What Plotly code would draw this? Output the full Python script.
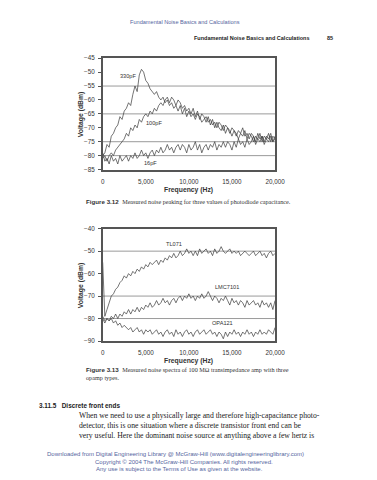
import plotly.graph_objects as go

W, H = 377, 480

# ---------------- data ----------------
freq = list(range(0, 20001, 250))

pf330 = [-80, -79, -76, -77, -73, -72, -70, -69, -66, -67, -64, -63, -61, -62, -58, -55, -57, -51, -49, -50,
         -53, -54, -56, -57, -58, -57, -59, -60, -59, -61, -60, -62, -61, -63, -62, -64, -62, -65, -63, -66,
         -64, -66, -65, -67, -65, -66, -68, -67, -66, -68, -67, -69, -68, -70, -68, -69, -71, -69, -70, -72,
         -70, -71, -73, -71, -72, -70, -73, -72, -74, -72, -73, -75, -72, -74, -73, -75, -73, -74, -72, -75, -73]
pf100 = [-81, -80, -82, -80, -79, -80, -78, -77, -76, -75, -74, -72, -73, -70, -71, -69, -70, -67, -68, -66,
         -65, -66, -64, -65, -63, -64, -62, -61, -62, -60, -59, -61, -59, -60, -62, -60, -61, -63, -62, -64,
         -63, -65, -63, -66, -64, -67, -65, -66, -68, -66, -69, -67, -70, -68, -70, -71, -69, -72, -70, -71,
         -73, -71, -72, -74, -72, -73, -71, -74, -72, -73, -75, -73, -74, -72, -75, -73, -74, -72, -75, -73, -74]
pf16 = [-79, -82, -81, -83, -80, -82, -81, -83, -80, -82, -81, -80, -82, -80, -81, -79, -81, -80, -78, -80,
        -79, -81, -79, -78, -80, -78, -79, -77, -79, -78, -76, -78, -77, -79, -77, -76, -78, -76, -77, -79,
        -76, -78, -77, -75, -78, -76, -79, -77, -76, -78, -76, -77, -75, -78, -76, -77, -75, -77, -75, -76,
        -78, -75, -77, -74, -76, -75, -77, -74, -76, -75, -73, -76, -74, -75, -73, -76, -74, -75, -73, -75, -74]

tl071 = [-55, -79, -76, -73, -70, -69, -67, -66, -64, -63, -61, -62, -60, -61, -59, -60, -58, -59, -57, -58,
         -56, -57, -55, -56, -55, -54, -56, -54, -55, -53, -54, -52, -53, -51, -53, -52, -50, -52, -51, -49,
         -51, -50, -52, -50, -52, -49, -51, -50, -49, -51, -50, -52, -49, -51, -50, -48, -50, -51, -50, -49,
         -51, -50, -51, -50, -52, -51, -50, -51, -52, -51, -50, -52, -51, -50, -52, -51, -53, -51, -50, -52, -51]
lmc7101 = [-80, -82, -80, -81, -79, -80, -78, -80, -78, -79, -77, -78, -76, -78, -76, -77, -75, -77, -75, -76,
           -74, -75, -73, -75, -74, -72, -74, -73, -71, -73, -72, -74, -72, -71, -73, -71, -70, -72, -70, -71,
           -69, -71, -70, -72, -70, -71, -69, -71, -70, -68, -70, -72, -70, -71, -73, -71, -72, -70, -72, -74,
           -71, -73, -72, -74, -72, -73, -75, -72, -74, -73, -72, -74, -73, -75, -72, -74, -73, -75, -73, -76, -72]
opa121 = [-79, -81, -80, -81, -80, -82, -81, -83, -82, -84, -83, -84, -85, -84, -86, -85, -84, -86, -85, -87,
          -85, -86, -85, -87, -86, -85, -87, -86, -88, -86, -85, -87, -86, -88, -85, -87, -86, -88, -86, -85,
          -87, -86, -88, -86, -85, -87, -86, -85, -87, -86, -85, -87, -86, -88, -86, -87, -89, -86, -88, -86,
          -87, -85, -87, -86, -88, -86, -87, -85, -87, -86, -88, -86, -87, -85, -87, -86, -87, -85, -86, -87, -84]

top_series = [("330pF", pf330), ("100pF", pf100), ("16pF", pf16)]
bot_series = [("TL071", tl071), ("LMC7101", lmc7101), ("OPA121", opa121)]

top_labels = [("330pF", 2900, -51.5), ("100pF", 6000, -68.3), ("16pF", 5500, -82.6)]
bot_labels = [("TL071", 8300, -46.8), ("LMC7101", 14400, -66.0), ("OPA121", 13900, -82.0)]

top_grid = [-55, -65, -75, -80]
bot_grid = [-50, -70, -80]

x_ticks = [0, 5000, 10000, 15000, 20000]
x_ticktext = ["0", "5,000", "10,000", "15,000", "20,000"]

# ---------------- helpers ----------------
def px(x):
    return x / W

def py(y):
    return 1 - y / H

SANS = "Liberation Sans, Arial, sans-serif"
SERIF = "Liberation Serif, Times New Roman, serif"
LINE = "#3a3a3a"
TXT = "#333333"

fig = go.Figure()
for name, vals in top_series:
    fig.add_trace(go.Scatter(x=freq, y=vals, mode="lines", name=name,
                             line=dict(color=LINE, width=0.7), xaxis="x", yaxis="y"))
for name, vals in bot_series:
    fig.add_trace(go.Scatter(x=freq, y=vals, mode="lines", name=name,
                             line=dict(color=LINE, width=0.7), xaxis="x2", yaxis="y2"))

xdom = [px(104), px(282)]
axis_common = dict(showline=True, mirror=True, linecolor="#555555", linewidth=1.5,
                   showgrid=False, zeroline=False, ticks="outside", ticklen=3,
                   tickcolor="#555555", ticklabelstandoff=2,
                   tickfont=dict(family=SANS, size=6.3, color=TXT))

fig.update_layout(
    width=W, height=H, margin=dict(l=0, r=0, t=0, b=0),
    paper_bgcolor="white", plot_bgcolor="white", showlegend=False,
    xaxis=dict(domain=xdom, anchor="y", range=[0, 20000], tickvals=x_ticks, ticktext=x_ticktext,
               **axis_common),
    yaxis=dict(domain=[py(168), py(55)], anchor="x", range=[-85, -45], dtick=5, **axis_common),
    xaxis2=dict(domain=xdom, anchor="y2", range=[0, 20000], tickvals=x_ticks, ticktext=x_ticktext,
                **axis_common),
    yaxis2=dict(domain=[py(342), py(228)], anchor="x2", range=[-90, -40], dtick=10, **axis_common),
)
fig.update_xaxes(ticklen=0, ticks="", ticklabelstandoff=5)

shapes = []
for v in top_grid:
    shapes.append(dict(type="line", xref="x domain", yref="y", x0=0, x1=1, y0=v, y1=v,
                       line=dict(color="#9a9a9a", width=1), layer="below"))
for v in bot_grid:
    shapes.append(dict(type="line", xref="x2 domain", yref="y2", x0=0, x1=1, y0=v, y1=v,
                       line=dict(color="#9a9a9a", width=1), layer="below"))
fig.update_layout(shapes=shapes)

ann = []
for t, x, y in top_labels:
    ann.append(dict(text=t, x=x, y=y, xref="x", yref="y", showarrow=False,
                    font=dict(family=SANS, size=5.6, color=TXT)))
for t, x, y in bot_labels:
    ann.append(dict(text=t, x=x, y=y, xref="x2", yref="y2", showarrow=False,
                    font=dict(family=SANS, size=5.6, color=TXT)))

def txt(text, x, y, size, family=SANS, color=TXT, xanchor="center", bold=False, angle=0):
    if bold:
        text = "<b>" + text + "</b>"
    ann.append(dict(text=text, x=px(x), y=py(y), xref="paper", yref="paper", showarrow=False,
                    xanchor=xanchor, yanchor="middle", textangle=angle,
                    font=dict(family=family, size=size, color=color)))

# axis titles
txt("Voltage (dBm)", 81, 111.5, 6.8, bold=True, angle=-90)
txt("Voltage (dBm)", 81, 285, 6.8, bold=True, angle=-90)
txt("Frequency (Hz)", 193, 189, 6.8, bold=True)
txt("Frequency (Hz)", 193, 362, 6.8, bold=True)

# page header
BLUE = "#5565a0"
txt("Fundamental Noise Basics and Calculations", 189, 18, 5.6, color=BLUE)
txt("Fundamental Noise Basics and Calculations", 320, 34, 5.5, xanchor="right", bold=True, color="#222")
txt("85", 334, 34, 5.5, xanchor="left", bold=True, color="#222")

# captions
txt("<b>Figure 3.12</b>  <span style='font-family:Liberation Serif'>Measured noise peaking for three values of photodiode capacitance.</span>",
    85, 200, 6.2, xanchor="left", color="#333")
txt("<b>Figure 3.13</b>  <span style='font-family:Liberation Serif'>Measured noise spectra of 100 MΩ transimpedance amp with three</span>",
    85, 371, 6.2, xanchor="left", color="#333")
txt("opamp types.", 85, 379, 6.2, family=SERIF, xanchor="left", color="#333")

# section
txt("3.11.5   Discrete front ends", 36, 407, 6.4, xanchor="left", bold=True, color="#222")
body = ["When we need to use a physically large and therefore high-capacitance photo-",
        "detector, this is one situation where a discrete transistor front end can be",
        "very useful. Here the dominant noise source at anything above a few hertz is"]
for i, line in enumerate(body):
    txt(line, 77, 417.5 + 10 * i, 7.7, family=SERIF, xanchor="left", color="#222")

foot = ["Downloaded from Digital Engineering Library @ McGraw-Hill (www.digitalengineeringlibrary.com)",
        "Copyright © 2004 The McGraw-Hill Companies. All rights reserved.",
        "Any use is subject to the Terms of Use as given at the website."]
foot_x = [179, 188, 183]
for i, line in enumerate(foot):
    txt(line, foot_x[i], 457 + 7.3 * i, 6.0, color=BLUE)

fig.update_layout(annotations=ann)
fig.write_html("out.html", post_script="document.body.style.margin='0';",
               config={"displayModeBar": False})
